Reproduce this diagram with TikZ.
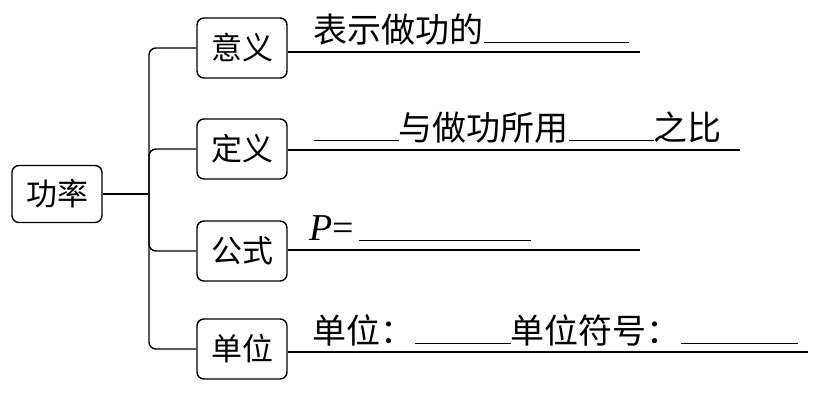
\documentclass[tikz,border=0pt]{standalone}
\usepackage{fontspec}
\newfontfamily\cjk{Noto Sans CJK SC}
\newfontfamily\latin{Liberation Serif}
\usetikzlibrary{positioning,calc}
\newcommand{\blank}[1]{\rule[-1pt]{#1pt}{1.2pt}}

\begin{document}
\begin{tikzpicture}[x=1pt,y=-1pt,line width=1.4pt,
      box/.style={draw,rounded corners=7pt,minimum width=90pt,minimum height=60pt,
                  inner sep=0pt,font=\fontsize{31}{34}\cjk},
      fill/.style={anchor=base west,inner sep=0pt,font=\fontsize{34}{36}\cjk}]
    \useasboundingbox (0,0) rectangle (816,394);
    % root and branches
    \node[box,minimum height=57pt] (root) at (57,194) {功率};
    \coordinate (j) at (149,194);
    \node[box] (yy) at (242,48) {意义};
    \node[box] (dy) at (242,149) {定义};
    \node[box] (gs) at (242,251) {公式};
    \node[box] (dw) at (242,349) {单位};
    \draw (root) -- (j);
    \foreach \b in {yy,dy,gs,dw}
      \draw[rounded corners=7pt] (j) |- (\b.west);
    % answer lines
    \coordinate (e1) at (640,52);
    \coordinate (e2) at (740,150);
    \coordinate (e3) at (640,250);
    \coordinate (e4) at (808,352);
    \draw (yy.east |- e1) -- (e1);
    \draw (dy.east |- e2) -- (e2);
    \draw (gs.east |- e3) -- (e3);
    \draw (dw.east |- e4) -- (e4);
    % texts
    \node[fill] (t1) at (313,42) {表示做功的\blank{145}};
    \node[fill] (t2) at (313,140) {\blank{85}与做功所用\blank{85}之比};
    \node[fill] (t3) at (309,240) {{\fontsize{38}{40}\latin{\itshape P}=}\hspace{5pt}\blank{172}};
    \node[fill] (t4) at (312,343) {单位：\blank{96}单位符号：\blank{117}};
  \end{tikzpicture}
\end{document}
